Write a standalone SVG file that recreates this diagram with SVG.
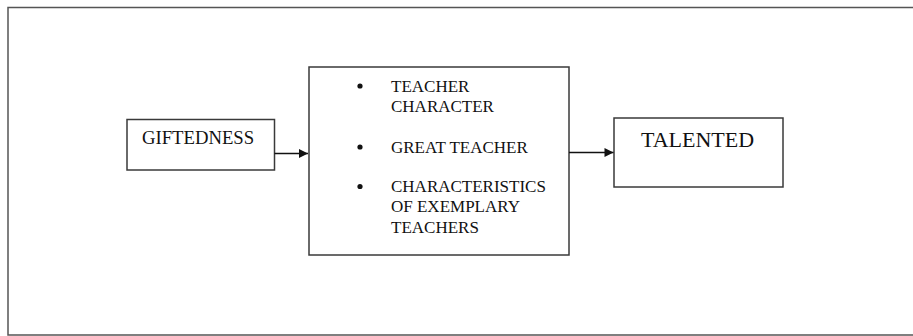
<svg xmlns="http://www.w3.org/2000/svg" width="913" height="336" viewBox="0 0 913 336">
<style>
.box{fill:#fff;stroke:#3a3a3a;stroke-width:1.5}
.t{font-family:"Liberation Serif","Times New Roman",serif;fill:#111}
.c{stroke:#111;stroke-width:1.5;fill:none}
</style>
<defs>
<marker id="ah" viewBox="0 0 10 10" refX="10" refY="5" markerWidth="10" markerHeight="9" markerUnits="userSpaceOnUse" orient="auto">
<path d="M0,0 L10,5 L0,10 Z" fill="#111"/>
</marker>
</defs>
<rect x="8" y="7.5" width="910" height="327.5" fill="none" stroke="#555" stroke-width="1.5"/>
<g id="giftedness">
<rect class="box" x="127" y="119.5" width="147.5" height="50.5"/>
<text class="t" x="142" y="144" font-size="18.7">GIFTEDNESS</text>
</g>
<g id="middle">
<rect class="box" x="309" y="67" width="260" height="188"/>
<circle cx="360" cy="86" r="2.6" fill="#111"/>
<circle cx="360" cy="147" r="2.6" fill="#111"/>
<circle cx="360" cy="186.5" r="2.6" fill="#111"/>
<text class="t" font-size="17"><tspan x="391" y="92">TEACHER</tspan><tspan x="391" y="112">CHARACTER</tspan><tspan x="391" y="152.5">GREAT TEACHER</tspan><tspan x="391" y="192">CHARACTERISTICS</tspan><tspan x="391" y="212.3">OF EXEMPLARY</tspan><tspan x="391" y="232.6">TEACHERS</tspan></text>
</g>
<g id="talented">
<rect class="box" x="614" y="118" width="169" height="69"/>
<text class="t" x="641" y="147" font-size="22">TALENTED</text>
</g>
<g id="connectors">
<line class="c" x1="274.5" y1="153.5" x2="308" y2="153.5" marker-end="url(#ah)"/>
<line class="c" x1="569" y1="152.5" x2="613.5" y2="152.5" marker-end="url(#ah)"/>
</g>
</svg>
